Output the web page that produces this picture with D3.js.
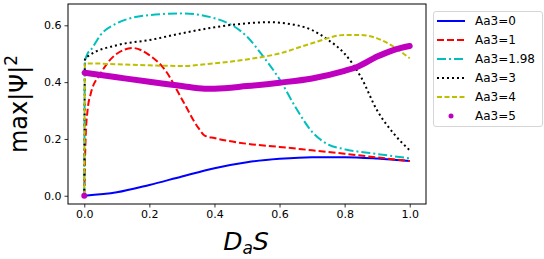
<!DOCTYPE html>
<html>
<head>
<meta charset="utf-8">
<script src="https://cdn.jsdelivr.net/npm/d3@7"></script>
<style>
  body { margin: 0; background: #fff; }
  text { font-family: "DejaVu Sans", sans-serif; }
</style>
</head>
<body>
<div id="chart"></div>
<script>
// Data
const xTicks = [0.0, 0.2, 0.4, 0.6, 0.8, 1.0]
const yTicks = [0.0, 0.2, 0.4, 0.6]

const aa0 = [[0, 0], [0.1, 0.012], [0.2, 0.038], [0.3, 0.068], [0.4, 0.097], [0.5, 0.118],
  [0.6, 0.130], [0.7, 0.136], [0.8, 0.136], [0.9, 0.131], [1.0, 0.122]]

const aa1 = [[0, 0], [0.004, 0.2], [0.01, 0.30], [0.02, 0.36], [0.05, 0.43], [0.1, 0.50],
  [0.15, 0.52], [0.2, 0.495], [0.25, 0.44], [0.3, 0.34], [0.35, 0.24], [0.37, 0.212],
  [0.4, 0.203], [0.5, 0.183], [0.6, 0.172], [0.7, 0.16], [0.8, 0.148], [0.9, 0.135], [1.0, 0.122]]

const aa198 = [[0, 0], [0.002, 0.47], [0.01, 0.50], [0.02, 0.513], [0.05, 0.566], [0.1, 0.607],
  [0.2, 0.636], [0.3, 0.642], [0.4, 0.625], [0.5, 0.56], [0.55, 0.49], [0.6, 0.41],
  [0.65, 0.31], [0.7, 0.225], [0.75, 0.18], [0.8, 0.164], [0.9, 0.147], [1.0, 0.132]]

const aa3 = [[0, 0], [0.002, 0.48], [0.01, 0.49], [0.1, 0.53], [0.2, 0.548], [0.3, 0.572],
  [0.4, 0.593], [0.5, 0.607], [0.57, 0.611], [0.6, 0.609], [0.7, 0.583], [0.75, 0.548],
  [0.8, 0.50], [0.85, 0.418], [0.9, 0.30], [0.95, 0.22], [1.0, 0.16]]

const aa4 = [[0, 0], [0.002, 0.465], [0.01, 0.466], [0.1, 0.463], [0.2, 0.459], [0.3, 0.457],
  [0.4, 0.466], [0.5, 0.48], [0.6, 0.501], [0.7, 0.537], [0.8, 0.566], [0.85, 0.566],
  [0.9, 0.554], [0.95, 0.525], [1.0, 0.484]]

const aa5 = [[0, 0], [0.001, 0.433], [0.1, 0.417], [0.2, 0.401], [0.3, 0.386], [0.37, 0.377],
  [0.4, 0.377], [0.5, 0.386], [0.6, 0.398], [0.7, 0.413], [0.8, 0.44], [0.84, 0.454],
  [0.9, 0.49], [0.95, 0.513], [1.0, 0.527]]

const series = [
  { label: 'Aa3=0', data: aa0, color: '#0000ff', dash: null, width: 2 },
  { label: 'Aa3=1', data: aa1, color: '#ff0000', dash: '7,3', width: 2 },
  { label: 'Aa3=1.98', data: aa198, color: '#00bfbf', dash: '9,3,2,3', width: 2 },
  { label: 'Aa3=3', data: aa3, color: '#000000', dash: '2,3', width: 2 },
  { label: 'Aa3=4', data: aa4, color: '#bfbf00', dash: '5,2.5', width: 2 },
  { label: 'Aa3=5', data: aa5, color: '#bf00bf', dots: true, width: 6 },
]

// Dimensions
const dimensions = { width: 544, height: 259, left: 68, right: 426, top: 4, bottom: 204 }

const svg = d3.select('#chart')
  .append('svg')
  .attr('width', dimensions.width)
  .attr('height', dimensions.height)

// Scales
const xScale = d3.scaleLinear()
  .domain([-0.05, 1.05])
  .range([dimensions.left, dimensions.right])

const yScale = d3.scaleLinear()
  .domain([-0.029, 0.675])
  .range([dimensions.bottom, dimensions.top])

const lineGenerator = d3.line()
  .x(d => xScale(d[0]))
  .y(d => yScale(d[1]))
  .curve(d3.curveMonotoneX)

const plot = svg.append('g')

svg.append('clipPath').attr('id', 'clip')
  .append('rect')
  .attr('x', dimensions.left).attr('y', dimensions.top)
  .attr('width', dimensions.right - dimensions.left)
  .attr('height', dimensions.bottom - dimensions.top)

plot.attr('clip-path', 'url(#clip)')

series.forEach(s => {
  if (s.dots) {
    plot.append('path')
      .datum(s.data.slice(1))
      .attr('d', lineGenerator)
      .attr('fill', 'none')
      .attr('stroke', s.color)
      .attr('stroke-width', s.width)
      .attr('stroke-linecap', 'round')
      .attr('stroke-linejoin', 'round')
    plot.append('circle')
      .attr('cx', xScale(s.data[0][0]))
      .attr('cy', yScale(s.data[0][1]))
      .attr('r', 3)
      .attr('fill', s.color)
  } else {
    plot.append('path')
      .datum(s.data)
      .attr('d', lineGenerator)
      .attr('fill', 'none')
      .attr('stroke', s.color)
      .attr('stroke-width', s.width)
      .attr('stroke-dasharray', s.dash)
  }
})

// Axes
const xAxis = d3.axisBottom(xScale)
  .tickValues(xTicks)
  .tickFormat(d3.format('.1f'))
  .tickSize(3.5)
  .tickPadding(3)

svg.append('g')
  .attr('transform', `translate(0, ${dimensions.bottom})`)
  .call(xAxis)
  .call(g => g.select('.domain').remove())
  .selectAll('text')
  .style('font-size', '11px')
  .attr('fill', '#000')

const yAxis = d3.axisLeft(yScale)
  .tickValues(yTicks)
  .tickFormat(d3.format('.1f'))
  .tickSize(3.5)
  .tickPadding(3)

svg.append('g')
  .attr('transform', `translate(${dimensions.left}, 0)`)
  .call(yAxis)
  .call(g => g.select('.domain').remove())
  .selectAll('text')
  .style('font-size', '11px')
  .attr('fill', '#000')

svg.selectAll('.tick line').attr('stroke', '#000').attr('stroke-width', 0.8)

svg.append('rect')
  .attr('x', dimensions.left).attr('y', dimensions.top)
  .attr('width', dimensions.right - dimensions.left)
  .attr('height', dimensions.bottom - dimensions.top)
  .attr('fill', 'none')
  .attr('stroke', '#000')
  .attr('stroke-width', 1)

// Labels
const yLabel = svg.append('text')
  .attr('transform', `translate(27, ${(dimensions.top + dimensions.bottom) / 2}) rotate(-90)`)
  .attr('text-anchor', 'middle')
  .style('font-size', '24px')
yLabel.append('tspan').text('max|Ψ|')
yLabel.append('tspan').text('2').attr('dy', -10).style('font-size', '17px')

const xLabel = svg.append('text')
  .attr('x', 246)
  .attr('y', 250)
  .attr('text-anchor', 'middle')
  .style('font-size', '25px')
  .style('font-style', 'italic')
xLabel.append('tspan').text('D')
xLabel.append('tspan').text('a').attr('dy', 4).style('font-size', '17px')
xLabel.append('tspan').text('S').attr('dy', -4)

// Legend
const legend = svg.append('g')
legend.append('rect')
  .attr('x', 433.5).attr('y', 11.5)
  .attr('width', 109).attr('height', 115)
  .attr('rx', 2.5)
  .attr('fill', '#fff')
  .attr('stroke', '#d6d6d6')
  .attr('stroke-width', 1)

series.forEach((s, i) => {
  const y = 21 + i * 19
  if (s.dots) {
    legend.append('circle')
      .attr('cx', 451).attr('cy', y).attr('r', 2.5)
      .attr('fill', s.color)
  } else {
    legend.append('line')
      .attr('x1', 437).attr('x2', 465)
      .attr('y1', y).attr('y2', y)
      .attr('stroke', s.color)
      .attr('stroke-width', s.width)
      .attr('stroke-dasharray', s.dash)
  }
  legend.append('text')
    .attr('x', 475)
    .attr('y', y)
    .attr('dy', '0.36em')
    .style('font-size', '12px')
    .text(s.label)
})
</script>
</body>
</html>
